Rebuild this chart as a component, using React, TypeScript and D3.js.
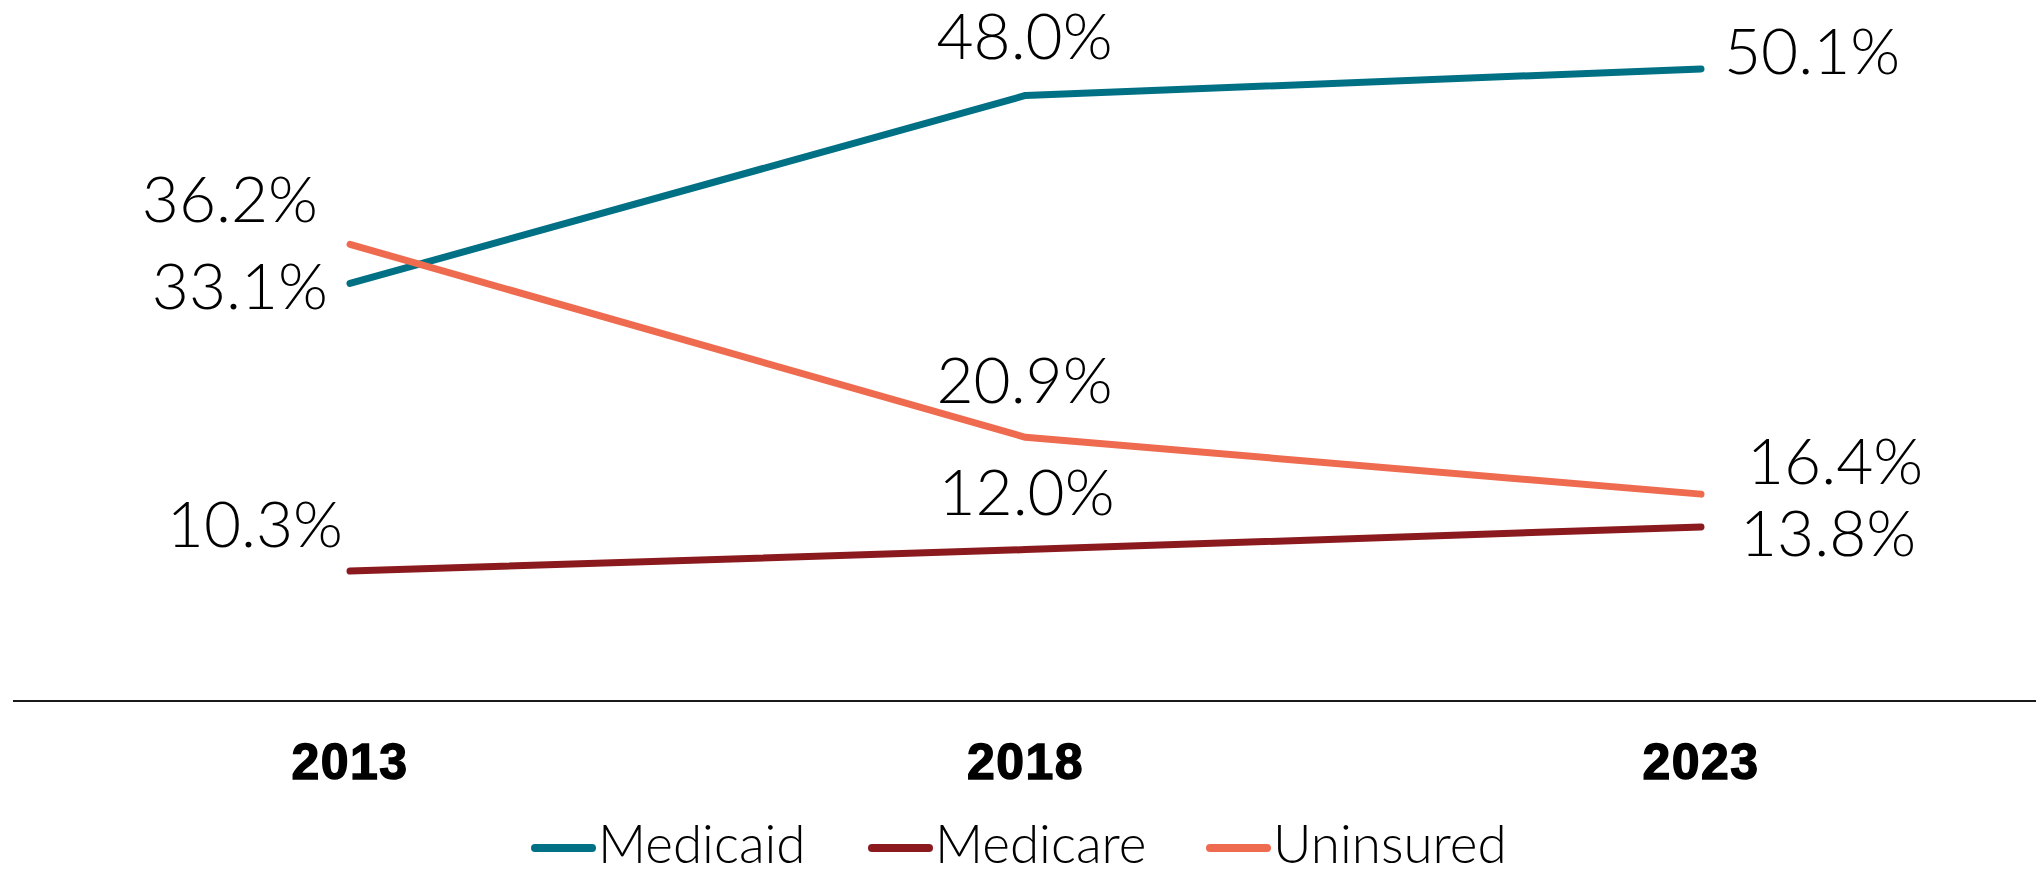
import React from 'react';
import * as d3 from 'd3';

const years = ['2013', '2018', '2023'];
const seriesNames = ['Medicaid', 'Medicare', 'Uninsured'];
const medicaid = [33.1, 48.0, 50.1];
const medicare = [10.3, 12.0, 13.8];
const uninsured = [36.2, 20.9, 16.4];
const colors = ['#007085', '#8b1a1e', '#ee6b4f'];

// manual label placement, like the original data labels
const labelOffsets = [
  [[-22, 26, 'end'], [-1, -37, 'middle'], [23, 5, 'start']],
  [[-7, -24, 'end'], [1, -35, 'middle'], [39, 29, 'start']],
  [[-32, -22, 'end'], [-1, -34, 'middle'], [46, -10, 'start']],
];

const W = 2036;
const H = 869;
const labelFont = 'Lato, "Open Sans", sans-serif';

export default function App() {
  const series = [medicaid, medicare, uninsured];

  const x = d3.scalePoint<string>()
    .domain(years)
    .range([350, 1701]);

  const y = d3.scaleLinear()
    .domain([0, 50.1])
    .range([701, 69]);

  const line = d3.line<number>()
    .x((_, i) => x(years[i]) as number)
    .y(d => y(d));

  // legend layout
  const legendX = [535, 872, 1210];
  const legendY = 848;

  return (
    <svg
      width={W}
      height={H}
      viewBox={`0 0 ${W} ${H}`}
      style={{ position: 'absolute', left: 0, top: 0, background: '#fff' }}
    >
      {/* lines */}
      {series.map((vals, s) => (
        <path
          key={seriesNames[s]}
          d={line(vals) ?? ''}
          fill="none"
          stroke={colors[s]}
          strokeWidth={7}
          strokeLinecap="round"
          strokeLinejoin="round"
        />
      ))}

      {/* data labels */}
      {series.map((vals, s) =>
        vals.map((v, i) => {
          const [dx, dy, anchor] = labelOffsets[s][i] as [number, number, string];
          return (
            <text
              key={`${s}-${i}`}
              x={(x(years[i]) as number) + dx}
              y={y(v) + dy}
              textAnchor={anchor as any}
              fontFamily={labelFont}
              fontWeight={300}
              fontSize={64}
              fill="#000"
            >
              {v.toFixed(1)}%
            </text>
          );
        })
      )}

      {/* x axis */}
      <line x1={13} x2={W} y1={y(0)} y2={y(0)} stroke="#1a1a1a" strokeWidth={2} />
      {years.map(yr => (
        <text
          key={yr}
          x={x(yr)}
          y={779}
          textAnchor="middle"
          fontFamily='"Liberation Sans", Arial, sans-serif'
          fontWeight={700}
          fontSize={50}
          letterSpacing={1.5}
          fill="#000"
          stroke="#000"
          strokeWidth={1.4}
        >
          {yr}
        </text>
      ))}

      {/* legend */}
      {seriesNames.map((name, s) => (
        <g key={name} transform={`translate(${legendX[s]},${legendY})`}>
          <line x1={0} x2={57} y1={0} y2={0} stroke={colors[s]} strokeWidth={8} strokeLinecap="round" />
          <text x={63} y={15} fontFamily={labelFont} fontWeight={300} fontSize={53} fill="#000">
            {name}
          </text>
        </g>
      ))}
    </svg>
  );
}
